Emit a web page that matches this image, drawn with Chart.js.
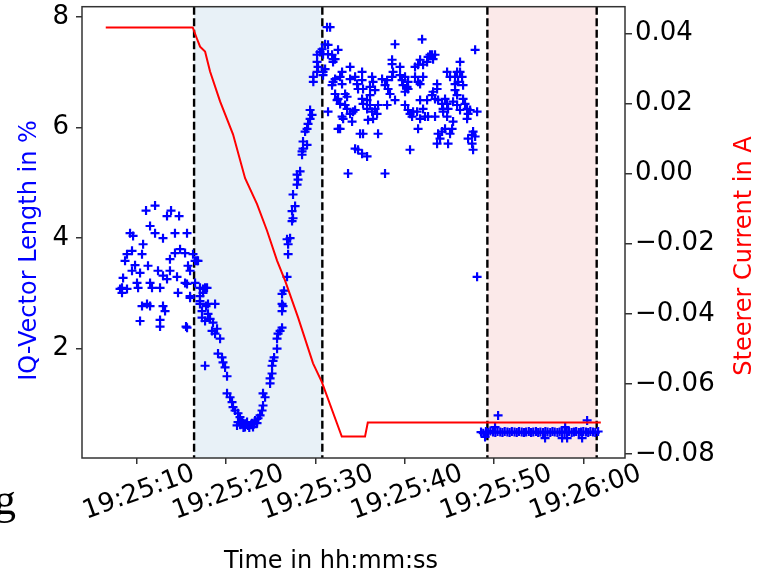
<!DOCTYPE html>
<html>
<head>
<meta charset="utf-8">
<script src="https://cdn.jsdelivr.net/npm/chart.js@4.4.1/dist/chart.umd.min.js"></script>
<style>
  html, body { margin: 0; padding: 0; background: #fff; }
  #wrap { width: 769px; height: 577px; position: relative; }
</style>
</head>
<body>
<div id="wrap"><canvas id="chart"></canvas></div>
<script>
// time axis: seconds after 19:25:00
const xTickValues = [10, 20, 30, 40, 50, 60];
const xTickLabels = ['19:25:10', '19:25:20', '19:25:30', '19:25:40', '19:25:50', '19:26:00'];
const yTickValues = [2, 4, 6, 8];
const yTickLabels = ['2', '4', '6', '8'];
const y1TickValues = [-0.08, -0.06, -0.04, -0.02, 0, 0.02, 0.04];
const y1TickLabels = ['\u22120.08', '\u22120.06', '\u22120.04', '\u22120.02', '0.00', '0.02', '0.04'];

// shaded intervals (dashed borders) in seconds
const scanRegion = [16.42, 30.78];
const finalRegion = [49.26, 61.5];

// steerer current (right axis)
const currentTimes = [6.53, 16.27, 16.72, 17.09, 17.65, 18.21, 19.33, 20.78, 22.13, 23.47, 24.59, 25.71, 26.61, 28.06, 29.74, 30.72, 32.96, 35.56, 35.87, 61.96];
const currentValues = [0.0417, 0.0417, 0.0386, 0.0362, 0.0348, 0.0291, 0.0206, 0.0112, -0.0013, -0.0087, -0.0163, -0.0248, -0.0305, -0.0410, -0.0541, -0.0594, -0.0750, -0.0750, -0.0710, -0.0710];

// IQ-vector length in %, [time, value]
const iqBefore = [
  [8.13,3.08],[8.35,3.10],[8.35,3.01],[8.47,3.28],[8.69,3.59],[8.91,3.71],[8.91,3.08],[9.25,4.09],[9.47,3.77],[9.47,3.41],
  [9.59,4.04],[9.81,3.51],[10.03,3.19],[10.15,3.10],[10.37,3.37],[10.37,2.50],[10.59,3.71],[10.59,2.77],[10.71,3.89],[11.04,4.50],
  [11.15,2.81],[11.26,3.50],[11.49,4.22],[11.49,3.19],[11.49,2.77],[11.71,3.10],[12.05,4.59],[12.05,4.09],[12.38,3.41],[12.61,3.10],
  [12.61,2.52],[12.61,2.40],[12.94,4.00],[12.94,3.32],[12.94,2.77],[13.17,2.68],[13.39,4.40],[13.39,3.26],[13.72,3.62],[13.72,3.41],
  [13.84,4.50],[14.28,4.09],[14.28,3.73],[14.51,3.30],[14.62,3.01],[14.74,4.40],[14.85,3.80],[15.41,3.73],[15.41,3.19],[15.52,2.40],
  [15.63,4.09],[15.63,3.17],[15.63,2.38],[15.74,3.50],[15.97,3.41],[15.97,2.95],[15.97,2.92],[16.30,3.71],[16.53,3.19],[16.53,3.59],[16.75,3.59]
];
const iqScan = [
  [16.86,3.59],[17.08,3.10],[17.08,2.95],[17.08,2.86],[17.08,2.81],[17.31,2.68],[17.31,2.56],[17.42,3.08],[17.42,3.01],[17.65,3.10],
  [17.65,2.50],[17.65,1.69],[17.76,2.77],[17.87,3.10],[17.98,2.81],[17.98,2.63],[18.21,2.54],[18.43,2.32],[18.54,2.47],[18.77,2.81],
  [18.77,2.27],[18.99,2.36],[19.10,1.91],[19.33,2.18],[19.55,1.84],[19.66,1.75],[19.89,1.66],[20.11,1.50],[20.11,1.19],[20.45,1.12],
  [20.67,1.03],[20.78,0.94],[21.01,0.88],[21.23,0.61],[21.34,0.83],[21.34,0.67],[21.56,0.76],[21.60,0.62],[21.79,0.70],[21.90,0.65],
  [21.95,0.57],[22.12,0.58],[22.20,0.63],[22.35,0.67],[22.46,0.61],[22.60,0.57],[22.80,0.62],[22.91,0.65],[23.02,0.58],[23.10,0.63],
  [23.25,0.70],[23.47,0.65],[23.58,0.74],[23.81,0.79],[24.03,0.88],[24.14,0.97],[24.14,1.19],[24.37,1.12],[24.93,1.46],[24.93,1.37],
  [25.15,1.55],[25.15,1.69],[25.26,1.78],[25.38,1.84],[25.71,2.00],[25.71,2.18],[25.82,2.27],[26.05,2.32],[26.27,2.38],[26.27,2.68],
  [26.38,2.77],[26.27,2.81],[26.27,2.99],[26.49,3.05],[26.83,3.30],[26.95,3.71],[26.95,3.89],[26.83,3.98],[27.17,4.00],[27.39,4.31],
  [27.50,4.36],[27.39,4.49],[27.73,4.58],[27.50,4.79],[27.95,4.97],[28.06,5.06],[27.95,5.15],[28.29,5.21],[28.51,5.51],[28.51,5.57],
  [28.62,5.62],[29.07,5.69],[28.62,5.75],[28.85,5.93],[29.07,5.98],[29.18,6.07],[29.41,6.16],[29.63,6.23],[29.41,6.32],[29.77,6.83],
  [29.77,6.92],[30.19,7.01],[30.30,7.10],[30.19,7.19],[30.19,7.32],[30.52,7.37],[30.75,7.42]
];
const iqAfter = [
  [30.86,6.95],[31.09,7.06],[31.42,7.50],[31.65,7.82],[31.31,7.82],[31.42,7.33],[31.98,7.24],[31.42,6.29],[31.98,6.83],[32.21,6.61],
  [32.43,6.50],[32.54,5.98],[31.09,7.51],[30.86,7.33],[31.87,7.32],[32.21,7.24],[31.98,7.19],[32.54,7.41],[30.86,7.01],[31.87,6.77],
  [32.21,6.88],[32.99,7.01],[32.99,6.79],[32.77,6.92],[33.89,7.10],[33.89,6.88],[34.45,6.92],[34.67,6.79],[34.78,6.70],[35.23,7.01],
  [35.23,6.86],[35.34,6.70],[35.23,6.52],[35.34,6.43],[35.79,6.34],[32.54,6.52],[32.77,6.43],[33.33,6.61],[33.55,6.56],[33.33,6.41],
  [33.55,6.34],[32.99,6.20],[33.11,6.16],[33.89,6.25],[34.11,6.11],[34.22,6.29],[34.45,6.32],[32.77,5.98],[35.01,5.89],[35.34,5.89],
  [34.45,5.62],[34.78,5.60],[35.23,5.53],[35.79,5.48],[33.66,5.17],[36.12,6.59],[36.12,6.74],[36.35,6.92],[36.46,6.83],[36.68,6.68],
  [35.79,6.50],[36.12,6.41],[36.35,6.29],[36.46,6.16],[35.90,6.14],[36.68,6.34],[36.91,6.25],[37.02,6.41],[37.02,5.89],[37.80,6.77],
  [38.03,6.41],[37.47,6.88],[38.03,6.86],[38.14,6.70],[38.59,6.92],[38.36,6.61],[38.92,6.50],[38.70,7.01],[38.92,7.51],[38.59,7.23],
  [38.59,7.15],[39.48,7.10],[39.71,6.86],[39.82,6.77],[40.04,6.65],[40.27,6.74],[40.38,6.70],[39.48,6.95],[40.04,6.92],[40.38,6.83],
  [37.80,5.17],[40.60,5.60],[40.04,6.41],[40.38,6.32],[40.60,6.25],[40.94,6.29],[40.83,6.20],[41.39,6.29],[41.73,6.16],[41.50,5.98],
  [41.16,7.10],[41.50,7.14],[41.73,7.23],[41.95,7.60],[42.06,7.14],[42.51,7.19],[42.62,7.28],[42.84,7.32],[43.07,7.32],[43.18,7.24],
  [43.40,7.32],[41.16,6.92],[41.73,6.79],[42.06,6.92],[41.50,6.83],[41.73,6.50],[42.51,6.50],[42.06,6.34],[42.28,6.20],[42.62,6.20],
  [43.40,6.20],[43.07,6.59],[43.18,6.65],[43.63,6.70],[43.63,6.79],[43.40,6.52],[43.74,6.50],[44.19,6.43],[44.30,6.34],[44.52,6.52],
  [44.30,6.29],[44.75,6.20],[44.86,6.34],[44.75,6.43],[43.74,5.89],[43.96,5.80],[43.63,5.71],[44.19,5.93],[44.52,5.98],[44.86,5.71],
  [45.08,5.89],[45.31,5.98],[45.42,6.11],[44.75,7.01],[45.08,6.92],[45.64,6.92],[45.87,7.01],[46.20,7.01],[46.20,7.19],[45.64,6.79],
  [45.98,6.83],[46.43,6.92],[46.54,6.77],[45.64,6.68],[45.87,6.59],[45.42,6.47],[45.87,6.41],[46.20,6.32],[46.54,6.52],[46.76,6.43],
  [46.99,6.34],[47.10,6.25],[46.99,6.16],[47.33,6.32],[48.11,6.29],[47.89,7.41],[47.10,5.80],[47.55,5.87],[47.66,5.93],[47.55,5.71],
  [47.66,5.60],[47.89,5.84],[48.11,3.30]
];
const iqFinal = [
  [48.55,0.49],[48.80,0.47],[49.00,0.40],[49.10,0.50],[49.35,0.48],[49.60,0.51],[49.90,0.49],[50.12,0.58],[50.15,0.48],[50.40,0.50],
  [50.46,0.79],[50.70,0.49],[50.95,0.48],[51.20,0.50],[51.50,0.49],[51.75,0.48],[52.00,0.50],[52.30,0.49],[52.55,0.48],[52.80,0.50],
  [53.10,0.49],[53.35,0.48],[53.60,0.49],[53.90,0.50],[54.15,0.48],[54.40,0.49],[54.70,0.50],[54.95,0.48],[55.20,0.49],[55.50,0.48],
  [55.72,0.38],[55.75,0.50],[56.00,0.49],[56.30,0.48],[56.55,0.50],[56.80,0.49],[57.10,0.48],[57.35,0.49],[57.60,0.50],[57.63,0.38],
  [57.90,0.48],[57.97,0.58],[58.15,0.49],[58.19,0.38],[58.40,0.50],[58.70,0.48],[58.95,0.49],[59.20,0.50],[59.50,0.48],[59.75,0.49],
  [59.87,0.38],[60.00,0.50],[60.30,0.49],[60.43,0.70],[60.55,0.48],[60.80,0.50],[61.10,0.49],[61.35,0.48],[61.66,0.50]
];

const xMin = 3.87, xMax = 64.67;
const yMin = 0.02, yMax = 8.19;
const y1Min = -0.0811, y1Max = 0.0476;

const tickFont = { family: '"DejaVu Sans"', size: 26 };
const titleFont = '24px "DejaVu Sans"';

function toPoints(list) {
  return list.map(p => ({ x: p[0], y: p[1] }));
}

const iqPoints = toPoints(iqBefore.concat(iqScan, iqAfter, iqFinal));
const currentPoints = currentTimes.map((t, i) => ({ x: t, y: currentValues[i] }));

// shading, dashed markers, frame, titles
const decor = {
  id: 'decor',
  beforeDatasetsDraw(chart) {
    const { ctx, chartArea: a, scales } = chart;
    const x = scales.x;
    ctx.save();
    [[scanRegion, 'rgba(31,119,180,0.1)'], [finalRegion, 'rgba(214,39,40,0.1)']].forEach(([r, col]) => {
      const x0 = x.getPixelForValue(r[0]), x1 = x.getPixelForValue(r[1]);
      ctx.fillStyle = col;
      ctx.fillRect(x0, a.top, x1 - x0, a.bottom - a.top);
    });
    ctx.strokeStyle = '#000';
    ctx.lineWidth = 2.4;
    ctx.setLineDash([8, 3.5]);
    scanRegion.concat(finalRegion).forEach(t => {
      const px = x.getPixelForValue(t);
      ctx.beginPath();
      ctx.moveTo(px, a.top);
      ctx.lineTo(px, a.bottom);
      ctx.stroke();
    });
    ctx.restore();
  },
  afterDraw(chart) {
    const { ctx, chartArea: a } = chart;
    ctx.save();
    ctx.strokeStyle = '#333';
    ctx.lineWidth = 1.5;
    ctx.strokeRect(a.left, a.top, a.right - a.left, a.bottom - a.top);

    ctx.font = titleFont;
    ctx.textAlign = 'center';
    ctx.textBaseline = 'alphabetic';
    ctx.fillStyle = '#000';
    ctx.fillText('Time in hh:mm:ss', 331, 568);

    ctx.save();
    ctx.translate(35.5, 250.5);
    ctx.rotate(-Math.PI / 2);
    ctx.fillStyle = '#0000ff';
    ctx.fillText('IQ-Vector Length in %', 0, 0);
    ctx.restore();

    ctx.save();
    ctx.translate(751, 256);
    ctx.rotate(-Math.PI / 2);
    ctx.fillStyle = '#ff0000';
    ctx.fillText('Steerer Current in A', 0, 0);
    ctx.restore();

    // stray glyph from the source page
    ctx.font = '44px "Liberation Serif"';
    ctx.textAlign = 'left';
    ctx.fillStyle = '#000';
    ctx.fillText('g', -6, 514);
    ctx.restore();
  }
};

const tickGrid = { drawOnChartArea: false, drawTicks: true, color: '#333', lineWidth: 1.5 };

function noPad(s) {
  s.paddingTop = 0;
  s.paddingBottom = 0;
  s.paddingLeft = 0;
  s.paddingRight = 0;
}

new Chart(document.getElementById('chart'), {
  type: 'scatter',
  data: {
    datasets: [
      {
        label: 'Steerer current',
        data: currentPoints,
        yAxisID: 'y1',
        showLine: true,
        borderColor: '#ff0000',
        borderWidth: 2,
        pointRadius: 0,
        tension: 0,
        order: 0
      },
      {
        label: 'IQ-vector length',
        data: iqPoints,
        yAxisID: 'y',
        pointStyle: 'cross',
        pointRadius: 4.5,
        pointBorderWidth: 2.2,
        borderColor: '#0000ff',
        backgroundColor: '#0000ff',
        order: 1
      }
    ]
  },
  options: {
    responsive: true,
    maintainAspectRatio: false,
    animation: false,
    layout: { padding: { top: 5, left: 0, right: 0, bottom: 0 } },
    plugins: { legend: { display: false }, tooltip: { enabled: false } },
    scales: {
      x: {
        type: 'linear',
        min: xMin,
        max: xMax,
        afterBuildTicks: s => { s.ticks = xTickValues.map(v => ({ value: v })); },
        afterFit: s => { s.height = 119; noPad(s); },
        grid: Object.assign({}, tickGrid, { tickLength: 6 }),
        border: { display: false },
        ticks: {
          font: tickFont,
          color: '#000',
          autoSkip: false,
          minRotation: 20,
          maxRotation: 20,
          padding: -6,
          labelOffset: 57,
          callback: (v, i) => xTickLabels[i]
        }
      },
      y: {
        position: 'left',
        min: yMin,
        max: yMax,
        afterBuildTicks: s => { s.ticks = yTickValues.map(v => ({ value: v })); },
        afterFit: s => { s.width = 82; noPad(s); },
        grid: Object.assign({}, tickGrid, { tickLength: 6 }),
        border: { display: false },
        ticks: { font: tickFont, color: '#000', padding: 7, callback: (v, i) => yTickLabels[i] }
      },
      y1: {
        position: 'right',
        min: y1Min,
        max: y1Max,
        afterBuildTicks: s => { s.ticks = y1TickValues.map(v => ({ value: v })); },
        afterFit: s => { s.width = 144; noPad(s); },
        grid: Object.assign({}, tickGrid, { tickLength: 7 }),
        border: { display: false },
        ticks: { font: tickFont, color: '#000', padding: 3, callback: (v, i) => y1TickLabels[i] }
      }
    }
  },
  plugins: [decor]
});
</script>
</body>
</html>
